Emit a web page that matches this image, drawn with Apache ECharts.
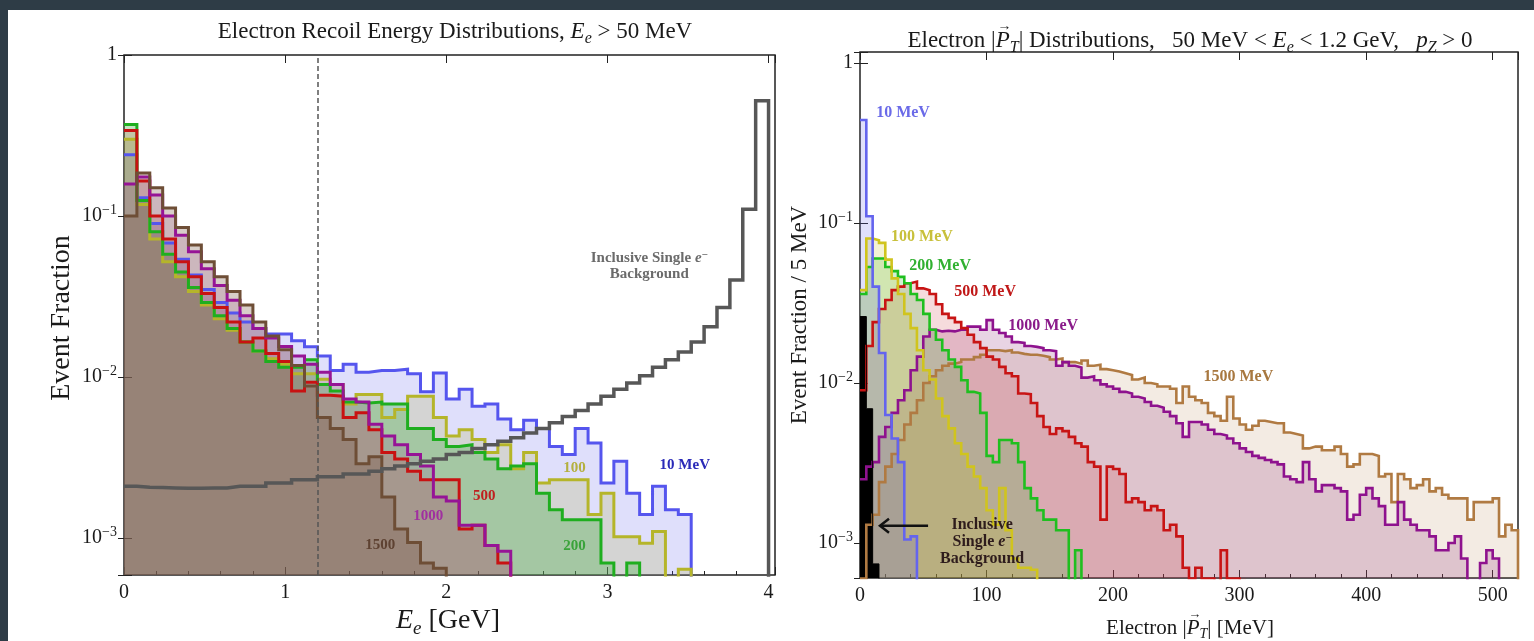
<!DOCTYPE html>
<html>
<head>
<meta charset="utf-8">
<title>Electron recoil energy and transverse momentum distributions</title>
<script src="https://cdn.jsdelivr.net/npm/echarts@6/dist/echarts.min.js"></script>
<style>
  html, body { margin: 0; padding: 0; background: #2e3c46; }
  #chart { width: 1534px; height: 641px; }
</style>
</head>
<body>
<div id="chart"></div>
<script>
// ---------------------------------------------------------------------------
// Histogram contents (event fraction per bin)
// ---------------------------------------------------------------------------

// Electron recoil energy E_e, bins of 80 MeV starting at 0 GeV
const EE_BIN_WIDTH = 0.08; // GeV
const eeTicks = [0, 1, 2, 3, 4];
const eeCut = 1.2; // GeV, dashed line

const eeSignal10 = [0.24, 0.13, 0.09, 0.068, 0.054, 0.043, 0.035, 0.029, 0.025, 0.022,
  0.02, 0.0185, 0.0185, 0.0168, 0.0154, 0.0135, 0.011, 0.012, 0.0107, 0.011,
  0.011, 0.0112, 0.0105, 0.0081, 0.0106, 0.0073, 0.0084, 0.0066, 0.0068, 0.0055,
  0.0047, 0.0054, 0.0048, 0.0037, 0.0033, 0.0048, 0.0039, 0.0022, 0.003, 0.0019,
  0.0014, 0.0021, 0.0015, 0.0014];
const eeSignal100 = [0.30, 0.118, 0.072, 0.052, 0.042, 0.034, 0.028, 0.023, 0.0195, 0.0165,
  0.0145, 0.013, 0.012, 0.0105, 0.0105, 0.0097, 0.009, 0.0068, 0.0078, 0.0078,
  0.0056, 0.0063, 0.0076, 0.0076, 0.0056, 0.0043, 0.0047, 0.0041, 0.0034, 0.0038,
  0.0027, 0.0034, 0.0022, 0.0023, 0.0023, 0.0023, 0.0014, 0.0019, 0.00102, 0.00102,
  0.00093, 0.0011, 0.0003, 0.00064];
const eeSignal200 = [0.37, 0.125, 0.08, 0.058, 0.045, 0.036, 0.029, 0.024, 0.02, 0.0165,
  0.0145, 0.0125, 0.0115, 0.0115, 0.0128, 0.009, 0.0082, 0.007, 0.0069, 0.007,
  0.0068, 0.0068, 0.0048, 0.0048, 0.0041, 0.0037, 0.0038, 0.0034, 0.0031, 0.0027,
  0.0028, 0.0029, 0.0019, 0.0015, 0.0013, 0.0013, 0.0013, 0.0007, 0.0004, 0.0007];
const eeSignal500 = [0.34, 0.165, 0.1, 0.072, 0.052, 0.042, 0.033, 0.027, 0.022, 0.0165,
  0.0175, 0.014, 0.0125, 0.0082, 0.0093, 0.0077, 0.0076, 0.0056, 0.006, 0.0047,
  0.0034, 0.0031, 0.0026, 0.0023, 0.0023, 0.0023, 0.00114, 0.0012, 0.0009, 0.0007];
const eeSignal1000 = [0.158, 0.175, 0.135, 0.1, 0.076, 0.06, 0.047, 0.037, 0.03, 0.024,
  0.02, 0.0175, 0.0155, 0.0135, 0.012, 0.0107, 0.009, 0.0073, 0.007, 0.0051,
  0.0043, 0.0038, 0.0033, 0.0028, 0.0018, 0.0017, 0.0012, 0.0012, 0.0009, 0.00083];
const eeSignal1500 = [0.10, 0.185, 0.15, 0.112, 0.085, 0.066, 0.052, 0.042, 0.034, 0.028,
  0.022, 0.018, 0.0148, 0.0118, 0.0088, 0.0056, 0.0048, 0.0041, 0.0029, 0.0032,
  0.0018, 0.00114, 0.00094, 0.0007, 0.00065];
const eeBackground = [0.0021, 0.00207, 0.00206, 0.00205, 0.00204, 0.00204, 0.00205, 0.00205, 0.0021, 0.0021,
  0.0021, 0.0022, 0.0022, 0.0023, 0.0023, 0.0024, 0.0024, 0.0025, 0.0025, 0.0026,
  0.0027, 0.0028, 0.0029, 0.003, 0.0031, 0.0033, 0.0034, 0.0036, 0.0038, 0.004,
  0.0042, 0.0045, 0.0048, 0.0052, 0.0057, 0.0062, 0.0068, 0.0076, 0.0084, 0.0092,
  0.0102, 0.0115, 0.0128, 0.0143, 0.0165, 0.0205, 0.027, 0.04, 0.11, 0.52];

// Electron transverse momentum |P_T|, bins of 5 MeV starting at 0 MeV
const PT_BIN_WIDTH = 5; // MeV
const ptTicks = [0, 100, 200, 300, 400, 500];

const ptSignal10 = [0.44, 0.11, 0.04, 0.0154, 0.0063, 0.0045, 0.0032, 0.00105, 0.0011];
const ptSignal100 = [0.038, 0.08, 0.078, 0.075, 0.059, 0.045, 0.036, 0.027, 0.022, 0.016,
  0.012, 0.0105, 0.008, 0.0062, 0.0052, 0.0042, 0.0036, 0.003, 0.0026, 0.0022,
  0.0016, 0.0013, 0.0022, 0.0012, 0.0008, 0.0007, 0.0007, 0.00068];
const ptSignal200 = [0.036, 0.053, 0.06, 0.06, 0.053, 0.05, 0.046, 0.042, 0.036, 0.033,
  0.027, 0.0215, 0.0186, 0.016, 0.014, 0.0126, 0.0104, 0.0088, 0.0086, 0.0065,
  0.0035, 0.0032, 0.0044, 0.0044, 0.0042, 0.0032, 0.0022, 0.0019, 0.0016, 0.0014,
  0.0014, 0.0012, 0.0012, 0.0004, 0.0009];
const ptSignal500 = [0.009, 0.017, 0.024, 0.029, 0.033, 0.038, 0.04, 0.042, 0.043, 0.039,
  0.038, 0.036, 0.031, 0.027, 0.0255, 0.024, 0.022, 0.02, 0.018, 0.0165,
  0.0146, 0.014, 0.0126, 0.0115, 0.011, 0.0086, 0.0085, 0.0075, 0.0062, 0.0053,
  0.0048, 0.0052, 0.005, 0.0046, 0.0042, 0.004, 0.0032, 0.003, 0.0014, 0.003,
  0.0029, 0.0027, 0.0018, 0.0019, 0.0018, 0.0016, 0.0017, 0.0016, 0.0012, 0.0013,
  0.0011, 0.0007, 0.0006, 0.0007, 0.0006, 0.0006, 0.0005, 0.0009, 0.0006, 0.0006,
  0.0005];
const ptSignal1000 = [0.0025, 0.003, 0.0032, 0.0046, 0.0053, 0.0065, 0.0078, 0.009, 0.012, 0.0146,
  0.0195, 0.0215, 0.021, 0.0212, 0.021, 0.0215, 0.0215, 0.0225, 0.0225, 0.0215,
  0.0247, 0.0215, 0.0205, 0.0195, 0.018, 0.0178, 0.017, 0.0168, 0.0165, 0.016,
  0.0158, 0.0128, 0.0135, 0.0128, 0.0125, 0.0108, 0.011, 0.0104, 0.0098, 0.0095,
  0.0092, 0.0088, 0.0086, 0.0082, 0.008, 0.0076, 0.0072, 0.007, 0.0066, 0.0062,
  0.0056, 0.0046, 0.0057, 0.0057, 0.0055, 0.0051, 0.0048, 0.0047, 0.0045, 0.0042,
  0.0039, 0.0037, 0.0035, 0.0034, 0.0033, 0.0032, 0.0031, 0.0026, 0.0025, 0.0024,
  0.0032, 0.0025, 0.0021, 0.0023, 0.0023, 0.0022, 0.0021, 0.0014, 0.0015, 0.002,
  0.0022, 0.0019, 0.0017, 0.0013, 0.0013, 0.0018, 0.0014, 0.0013, 0.0012, 0.0012,
  0.0011, 0.0009, 0.0009, 0.001, 0.0011, 0.0008, 0.0005, 0.0005, 0.00075, 0.0009,
  0.0008];
const ptSignal1500 = [0.0006, 0.0013, 0.0015, 0.0024, 0.003, 0.0036, 0.0044, 0.0055, 0.0065, 0.0078,
  0.01, 0.011, 0.012, 0.0128, 0.0132, 0.0135, 0.014, 0.014, 0.0145, 0.015,
  0.016, 0.016, 0.0158, 0.016, 0.0155, 0.0152, 0.015, 0.015, 0.0148, 0.0145,
  0.014, 0.0142, 0.0135, 0.0135, 0.0132, 0.0138, 0.0128, 0.013, 0.0122, 0.012,
  0.0118, 0.0115, 0.0112, 0.0105, 0.0108, 0.01, 0.0098, 0.0095, 0.0095, 0.0092,
  0.0075, 0.0095, 0.0082, 0.0078, 0.0075, 0.0065, 0.0062, 0.0058, 0.0082, 0.006,
  0.0055, 0.0051, 0.0054, 0.0058, 0.0057, 0.0056, 0.0056, 0.0049, 0.0048, 0.0047,
  0.0039, 0.004, 0.004, 0.0038, 0.0038, 0.004, 0.0036, 0.003, 0.0031, 0.0036,
  0.0036, 0.0035, 0.0026, 0.0027, 0.0018, 0.0027, 0.0025, 0.0022, 0.0023, 0.0025,
  0.0021, 0.0022, 0.002, 0.0019, 0.0019, 0.0019, 0.0014, 0.0018, 0.0018, 0.0018,
  0.0019, 0.0011, 0.0013, 0.0012];
const ptBackground = [0.026, 0.0069, 0.00074];

// ---------------------------------------------------------------------------
// Drawing helpers
// ---------------------------------------------------------------------------
const SERIF = '"Liberation Serif", "DejaVu Serif", serif';
const INK = '#1a1a1a';
const FLOOR = 1e-7; // below every axis minimum: closes the last bin down to the frame

// step outline through bin left edges, closed at the right edge of the last bin
function histogramPoints(values, width) {
  const pts = values.map((v, i) => [i * width, v]);
  const end = values.length * width;
  pts.push([end, values[values.length - 1]]);
  pts.push([end, FLOOR]);
  return pts;
}

function histSeries(name, values, width, axis, line, lineWidth, fill) {
  const s = {
    name, type: 'line', step: 'end', symbol: 'none', silent: true,
    xAxisIndex: axis, yAxisIndex: axis,
    data: histogramPoints(values, width),
    lineStyle: { color: line, width: lineWidth, join: 'miter', cap: 'butt' }
  };
  if (fill) s.areaStyle = { color: fill, opacity: 1, origin: 'start' };
  return s;
}

function logLabel(v) {
  const e = Math.log10(v);
  const r = Math.round(e);
  if (Math.abs(e - r) > 1e-6) return '';
  if (r === 0) return '{n|1}';
  return '{n|10}{s|\u2212' + (-r) + '}';
}

const logRich = {
  n: { fontFamily: SERIF, fontSize: 20, color: INK, lineHeight: 26, verticalAlign: 'middle' },
  s: { fontFamily: SERIF, fontSize: 14, color: INK, lineHeight: 14, verticalAlign: 'top' }
};

function xAxis(grid, max, interval, position, major, labelStep) {
  return {
    type: 'value', gridIndex: grid, min: 0, max, interval, position,
    axisLine: { show: false }, splitLine: { show: false },
    axisTick: { show: true, inside: true, length: major ? 8 : 4, lineStyle: { color: '#222', width: 1 } },
    axisLabel: {
      show: major && position === 'bottom', margin: 8,
      fontFamily: SERIF, fontSize: 20, color: INK,
      formatter: v => (Math.abs(v / labelStep - Math.round(v / labelStep)) < 1e-9 && v < max - 1e-9) ? String(v) : ''
    }
  };
}

function yAxis(grid, min, max, position) {
  return {
    type: 'log', logBase: 10, gridIndex: grid, min, max, position,
    axisLine: { show: false }, splitLine: { show: false },
    axisTick: { show: true, inside: true, length: position === 'left' ? 8 : 6, lineStyle: { color: '#222', width: 1 } },
    axisLabel: { show: position === 'left', margin: 7, formatter: logLabel, rich: logRich }
  };
}

// ---------------------------------------------------------------------------
// Chart
// ---------------------------------------------------------------------------
const chart = echarts.init(document.getElementById('chart'), null, { renderer: 'canvas' });

const EE_MAX = 4.04, PT_MAX = 520;
const EE_YMIN = 5.9e-4, EE_YMAX = 1;
const PT_YMIN = 6.04e-4, PT_YMAX = 1.17;

const frame = { show: true, borderColor: '#222', borderWidth: 1.5, backgroundColor: 'transparent' };

const series = [
  // recoil energy panel
  histSeries('10 MeV', eeSignal10, EE_BIN_WIDTH, 0, '#5555ee', 3, 'rgba(95,95,235,0.2)'),
  histSeries('100 MeV', eeSignal100, EE_BIN_WIDTH, 0, '#b5b52a', 3, 'rgba(175,175,70,0.22)'),
  histSeries('200 MeV', eeSignal200, EE_BIN_WIDTH, 0, '#1fae1f', 3, 'rgba(40,165,40,0.28)'),
  histSeries('500 MeV', eeSignal500, EE_BIN_WIDTH, 0, '#c81212', 3, 'rgba(200,50,50,0.18)'),
  histSeries('1000 MeV', eeSignal1000, EE_BIN_WIDTH, 0, '#961496', 3, 'rgba(150,40,150,0.15)'),
  histSeries('1500 MeV', eeSignal1500, EE_BIN_WIDTH, 0, '#6e4e36', 3, 'rgba(115,80,60,0.28)'),
  Object.assign(histSeries('Inclusive background', eeBackground, EE_BIN_WIDTH, 0, '#575757', 3.5, null), {
    markLine: {
      silent: true, symbol: 'none', label: { show: false },
      lineStyle: { type: [5, 3], color: '#555', width: 1.5 },
      data: [{ xAxis: eeCut }]
    }
  }),
  // transverse momentum panel
  histSeries('1500 MeV', ptSignal1500, PT_BIN_WIDTH, 1, '#b07a42', 2.6, 'rgba(176,122,66,0.15)'),
  histSeries('1000 MeV', ptSignal1000, PT_BIN_WIDTH, 1, '#8e128e', 2.6, 'rgba(142,40,120,0.2)'),
  histSeries('500 MeV', ptSignal500, PT_BIN_WIDTH, 1, '#c81414', 2.6, 'rgba(200,40,50,0.17)'),
  histSeries('200 MeV', ptSignal200, PT_BIN_WIDTH, 1, '#1fbf1f', 2.6, 'rgba(40,180,40,0.2)'),
  histSeries('100 MeV', ptSignal100, PT_BIN_WIDTH, 1, '#d0c41e', 2.6, 'rgba(200,190,40,0.2)'),
  histSeries('10 MeV', ptSignal10, PT_BIN_WIDTH, 1, '#6464ee', 2.6, 'rgba(100,100,235,0.2)'),
  histSeries('Inclusive background', ptBackground, PT_BIN_WIDTH, 1, '#000', 1, '#000')
];

chart.setOption({
  animation: false,
  backgroundColor: '#2e3c46',
  grid: [
    Object.assign({ left: 124, top: 55, width: 651, height: 520 }, frame),
    Object.assign({ left: 860, top: 52, width: 658, height: 526 }, frame)
  ],
  xAxis: [
    xAxis(0, EE_MAX, 1, 'bottom', true, 1),
    xAxis(1, PT_MAX, 100, 'bottom', true, 100),
    xAxis(0, EE_MAX, 0.2, 'bottom', false, 1),
    xAxis(1, PT_MAX, 20, 'bottom', false, 100),
    xAxis(0, EE_MAX, 1, 'top', true, 1),
    xAxis(1, PT_MAX, 100, 'top', true, 100)
  ],
  yAxis: [
    yAxis(0, EE_YMIN, EE_YMAX, 'left'),
    yAxis(1, PT_YMIN, PT_YMAX, 'left'),
    yAxis(0, EE_YMIN, EE_YMAX, 'right'),
    yAxis(1, PT_YMIN, PT_YMAX, 'right')
  ],
  series
});

// ---------------------------------------------------------------------------
// Titles and axis names: runs of roman / italic / subscript text laid out
// piece by piece, with a vector arrow over P.
// ---------------------------------------------------------------------------
const measureCtx = document.createElement('canvas').getContext('2d');
function fontOf(size, italic, bold) {
  return (italic ? 'italic ' : '') + (bold ? 'bold ' : '') + size + 'px ' + SERIF;
}

// parts: [text, kind] with kind n (roman), i (italic), s (italic subscript), v (arrow over previous)
function composeLine(cx, cy, size, parts, color) {
  const subSize = Math.round(size * 0.68);
  const pieces = parts.map(([t, kind]) => {
    const sz = kind === 's' ? subSize : (kind === 'v' ? Math.round(size * 0.62) : size);
    const font = fontOf(sz, kind !== 'n', false);
    measureCtx.font = font;
    return { t, kind, font, w: kind === 'v' ? 0 : measureCtx.measureText(t).width };
  });
  const total = pieces.reduce((a, p) => a + p.w, 0);
  let x = cx - total / 2;
  const els = [];
  let prev = null;
  pieces.forEach(p => {
    let px = x, py = cy, align = 'left';
    if (p.kind === 's') py = cy + size * 0.3;
    if (p.kind === 'v' && prev) { px = prev.x + prev.w / 2 + size * 0.08; py = cy - size * 0.62; align = 'center'; }
    els.push({
      type: 'text', x: px, y: py, silent: true, z: 60,
      style: { text: p.t, font: p.font, fill: color, align, verticalAlign: 'middle' }
    });
    if (p.kind !== 'v') prev = { x, w: p.w };
    x += p.w;
  });
  return els;
}

function rotatedText(x, y, text, size) {
  return {
    type: 'text', x, y, rotation: Math.PI / 2, silent: true, z: 60,
    style: { text, font: fontOf(size, false, false), fill: INK, align: 'center', verticalAlign: 'middle' }
  };
}

// ---------------------------------------------------------------------------
// In-plot annotations, anchored in data coordinates of each panel
// ---------------------------------------------------------------------------
const eeNotes = [
  { at: [3.26, 0.049], text: '{g|Inclusive Single }{gi|e}{gs|\u2212}\n{g|Background}', color: '#6b6b6b' },
  { at: [3.48, 0.00284], text: '{g|10 MeV}', color: '#2a2ab8' },
  { at: [2.795, 0.00272], text: '{g|100}', color: '#b4b040' },
  { at: [2.795, 0.00089], text: '{g|200}', color: '#3aa33a' },
  { at: [2.236, 0.00182], text: '{g|500}', color: '#c02020' },
  { at: [1.888, 0.00137], text: '{g|1000}', color: '#a030a0' },
  { at: [1.59, 0.000906], text: '{g|1500}', color: '#5e4232' }
];
const ptNotes = [
  { at: [34, 0.487], text: '{g|10 MeV}', color: '#6a6ae8' },
  { at: [49, 0.0818], text: '{g|100 MeV}', color: '#c8c03a' },
  { at: [63.3, 0.0538], text: '{g|200 MeV}', color: '#30b030' },
  { at: [98.9, 0.037], text: '{g|500 MeV}', color: '#c01818' },
  { at: [144.8, 0.0227], text: '{g|1000 MeV}', color: '#8a1a8a' },
  { at: [299, 0.0109], text: '{g|1500 MeV}', color: '#a87840' },
  { at: [96.5, 0.00102], text: '{g|Inclusive}\n{g|Single }{gi|e}{gs|\u2212}\n{g|Background}', color: '#2e1c1c' }
];
const ptArrow = { from: [53.8, 0.00128], to: [15.8, 0.00128] };

function noteElement(grid, note, size) {
  const [x, y] = chart.convertToPixel({ gridIndex: grid }, note.at);
  const base = { fontFamily: SERIF, fontWeight: 'bold', fontSize: size, lineHeight: size + 1, fill: note.color };
  return {
    type: 'text', x, y, silent: true, z: 60,
    style: {
      text: note.text, align: 'center', verticalAlign: 'middle',
      rich: {
        g: base,
        gi: Object.assign({}, base, { fontStyle: 'italic' }),
        gs: Object.assign({}, base, { fontSize: Math.round(size * 0.7), lineHeight: size + 1, verticalAlign: 'top' })
      }
    }
  };
}

const [ax0, ay0] = chart.convertToPixel({ gridIndex: 1 }, ptArrow.from);
const [ax1, ay1] = chart.convertToPixel({ gridIndex: 1 }, ptArrow.to);

const graphics = [
  { type: 'rect', shape: { x: 8, y: 10, width: 1526, height: 631 }, style: { fill: '#ffffff' }, z: -100, silent: true },
  rotatedText(62, 318, 'Event Fraction', 28),
  rotatedText(800, 315, 'Event Fraction / 5 MeV', 23),
  { type: 'line', silent: true, z: 60, shape: { x1: ax0, y1: ay0, x2: ax1, y2: ay1 }, style: { stroke: '#111', lineWidth: 2.5 } },
  { type: 'polyline', silent: true, z: 60, shape: { points: [[ax1 + 9, ay1 - 7], [ax1, ay1], [ax1 + 9, ay1 + 7]] }, style: { stroke: '#111', lineWidth: 2.5, fill: null } }
]
  .concat(composeLine(455, 32, 23, [
    ['Electron Recoil Energy Distributions, ', 'n'], ['E', 'i'], ['e', 's'], [' > 50 MeV', 'n']
  ], INK))
  .concat(composeLine(1190, 41, 23, [
    ['Electron |', 'n'], ['P', 'i'], ['\u2192', 'v'], ['T', 's'], ['| Distributions,   50 MeV < ', 'n'],
    ['E', 'i'], ['e', 's'], [' < 1.2 GeV,   ', 'n'], ['p', 'i'], ['Z', 's'], [' > 0', 'n']
  ], INK))
  .concat(composeLine(448, 621, 28, [['E', 'i'], ['e', 's'], [' [GeV]', 'n']], INK))
  .concat(composeLine(1190, 628, 21, [
    ['Electron |', 'n'], ['P', 'i'], ['\u2192', 'v'], ['T', 's'], ['| [MeV]', 'n']
  ], INK))
  .concat(eeNotes.map(n => noteElement(0, n, 15)))
  .concat(ptNotes.map(n => noteElement(1, n, 16)));

chart.setOption({ graphic: graphics });
</script>
</body>
</html>
